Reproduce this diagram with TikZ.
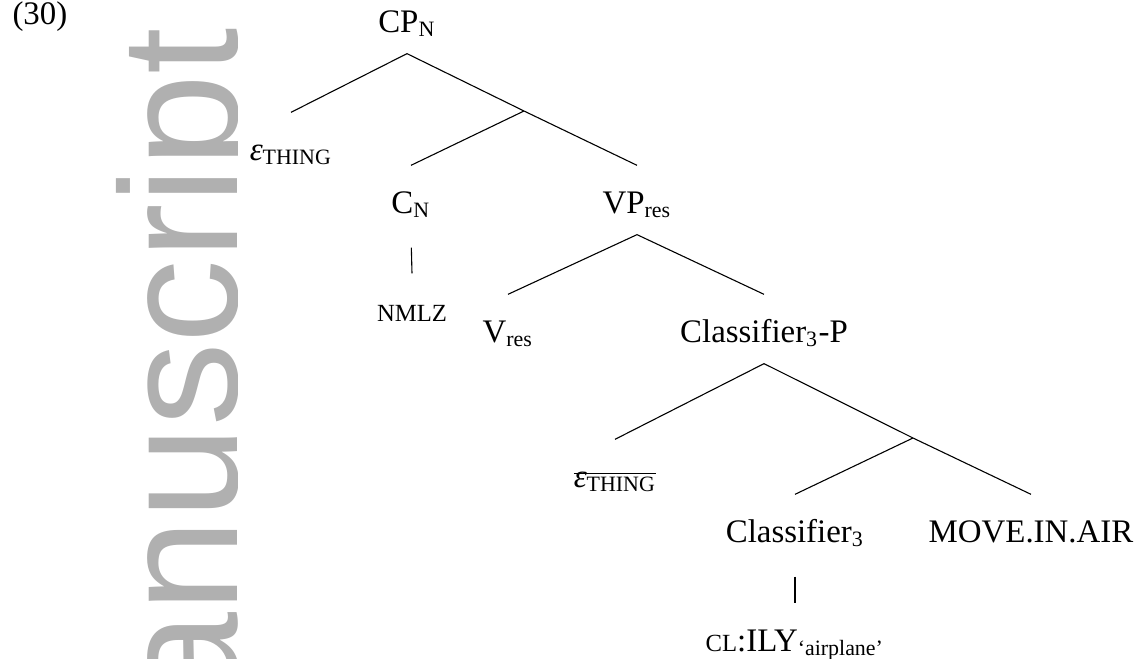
\documentclass[tikz,border=0pt]{standalone}
\usepackage{fontspec}
\setmainfont{Liberation Serif}
\newfontfamily\wmfont{Liberation Sans}
\definecolor{wm_grey}{RGB}{176,176,176}
\tikzstyle{tn}=[inner sep=0pt,anchor=base,text height=17.2pt,text depth=7.7pt]
\tikzstyle{wm}=[inner sep=0pt,anchor=base east,rotate=90,text=wm_grey,
  font=\wmfont\fontsize{61}{64}\selectfont]
\newcommand{\smc}[1]{{\fontsize{9}{10}\selectfont #1}}
\newsavebox{\strkbox}
\newcommand{\strk}[1]{\sbox{\strkbox}{#1}\rlap{\usebox{\strkbox}}\rule[4.7pt]{\wd\strkbox}{0.4pt}}

\begin{document}
\begin{tikzpicture}[x=0.365pt,y=-0.365pt,font=\fontsize{12}{14}\selectfont]
    \useasboundingbox (0,0) rectangle (1139,659);
    \begin{scope}
      \clip (0,0) rectangle (237,659);
      \node [style=wm] (ms) at (237,27) {manuscript};
    \end{scope}
    \node [anchor=base west,inner sep=0pt] (ex) at (12,25) {(30)};
    \node [style=tn] (cp) at (407,32) {CP\textsubscript{N}};
    \node [style=tn] (e1) at (291,160) {\textit{ε}\textsubscript{THING}};
    \coordinate (b1) at (524,111);
    \node [style=tn] (cn) at (411,213) {C\textsubscript{N}};
    \node [style=tn] (vp) at (637,213) {VP\textsubscript{res}};
    \node [style=tn] (nm) at (412,321) {\smc{NMLZ}};
    \node [style=tn] (vr) at (508,342) {V\textsubscript{res}};
    \node [style=tn] (clp) at (764,342) {Classifier\textsubscript{3}-P};
    \node [style=tn] (e2) at (615,487) {\strk{\textit{ε}\textsubscript{THING}}};
    \coordinate (b2) at (913,438);
    \node [style=tn] (cl) at (795,542) {Classifier\textsubscript{3}};
    \node [style=tn] (mv) at (1031,542) {MOVE.IN.AIR};
    \node [style=tn] (ily) at (795,651) {\smc{CL}:ILY\textsubscript{‘airplane’}};
    \draw (cp.south) to (e1.north);
    \draw (cp.south) to (b1);
    \draw (b1) to (cn.north);
    \draw (b1) to (vp.north);
    \draw [shorten <=4.7pt] (cn.south) to (nm.north);
    \draw (vp.south) to (vr.north);
    \draw (vp.south) to (clp.north);
    \draw (clp.south) to (e2.north);
    \draw (clp.south) to (b2);
    \draw (b2) to (cl.north);
    \draw (b2) to (mv.north);
    \draw [shorten <=4.7pt] (cl.south) to (ily.north);
  \end{tikzpicture}
\end{document}
